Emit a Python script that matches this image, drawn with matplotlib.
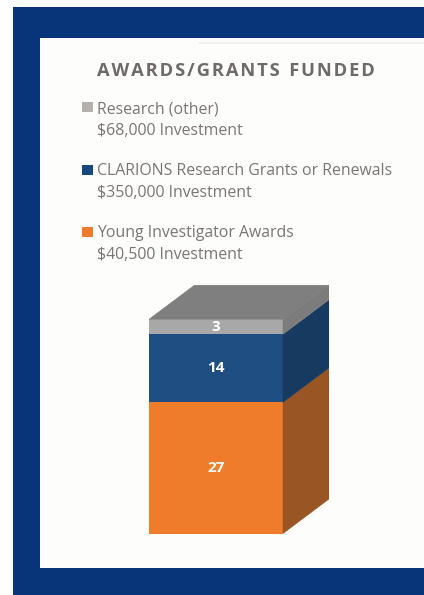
import matplotlib
matplotlib.use("Agg")
import matplotlib.pyplot as plt
from matplotlib.patches import Polygon, Rectangle

W, H = 424, 595

TITLE = "AWARDS/GRANTS FUNDED"
categories = ["Young Investigator Awards", "CLARIONS Research Grants or Renewals", "Research (other)"]
investments = ["$40,500 Investment", "$350,000 Investment", "$68,000 Investment"]
counts = [27, 14, 3]
front_colors = ["#ee7c2b", "#1f4e82", "#a8a8a8"]
side_colors = ["#9a5524", "#173a60", "#7c7c7c"]
top_color = "#7f7f7f"
legend_colors = ["#ee7c2b", "#17497c", "#b3b0ae"]

# text baselines and swatch tops, in pixels from the top of the page
name_y = [237, 175, 113]
inv_y = [259, 197, 135]
swatch_y = [227, 165, 102]

NAVY = "#08357a"
TEXT = "#7b7575"

plt.rcParams["font.family"] = ["Open Sans", "DejaVu Sans"]
fig = plt.figure(figsize=(W / 100, H / 100), dpi=100, facecolor="white")

# page background in pixel coordinates
bg = fig.add_axes([0, 0, 1, 1])
bg.set_xlim(0, W)
bg.set_ylim(H, 0)
bg.axis("off")
bg.add_patch(Rectangle((13, 7), W - 13, H - 7, fc=NAVY, ec="none"))
bg.add_patch(Rectangle((40, 38), W - 40, 530, fc="#fdfdfc", ec="none"))
bg.plot([200, W], [43, 43], color="#efefef", lw=1.5)

# hair spaces give the heading its letter spacing
spaced = "  ".join("\u200a".join(word) for word in TITLE.split(" "))
bg.text(97, 76.5, spaced, fontsize=13.2, fontweight="bold", color="#6f6a6a", va="baseline", ha="left")

for name, inv, col, yn, yi, ys in zip(categories, investments, legend_colors, name_y, inv_y, swatch_y):
    bg.add_patch(Rectangle((82, ys), 11, 10, fc=col, ec="none"))
    bg.text(97, yn, name, fontsize=11.4, color=TEXT, va="baseline", ha="left")
    bg.text(97, yi, inv, fontsize=11.4, color=TEXT, va="baseline", ha="left")

# stacked column with a fake 3D side and top
left, right, bottom, top = 148.5, 329, 533.5, 284.5
ax = fig.add_axes([left / W, 1 - bottom / H, (right - left) / W, (bottom - top) / H])
px_per_unit = 4.86
ax.set_xlim(0, right - left)
ax.set_ylim(0, (bottom - top) / px_per_unit)
ax.axis("off")

bar_w = 134.5
depth_x = right - left - bar_w
depth_y = 34.5 / px_per_unit

base = 0
for val, fc, sc in zip(counts, front_colors, side_colors):
    ax.bar(bar_w / 2, val, bar_w, bottom=base, color=fc, linewidth=0)
    ax.add_patch(Polygon([(bar_w, base), (bar_w + depth_x, base + depth_y),
                          (bar_w + depth_x, base + val + depth_y), (bar_w, base + val)],
                         fc=sc, ec=sc, lw=0.4))
    ax.text(bar_w / 2, base + val / 2, str(val), color="white", fontsize=11,
            fontweight="bold", ha="center", va="center")
    base += val

ax.add_patch(Polygon([(0, base), (depth_x, base + depth_y),
                      (bar_w + depth_x, base + depth_y), (bar_w, base)],
                     fc=top_color, ec=top_color, lw=0.4))

fig.savefig("out.png", dpi=100, facecolor="white")
